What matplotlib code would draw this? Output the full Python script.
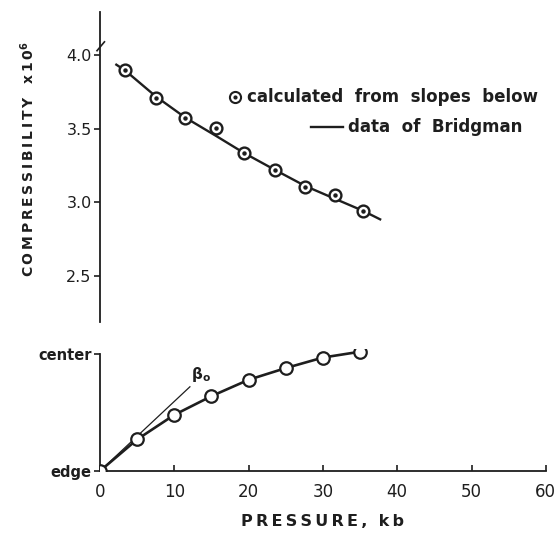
import matplotlib
matplotlib.use("Agg")
import matplotlib.pyplot as plt
from matplotlib.lines import Line2D

# ---- data ----
calc_pressure = [3.4, 7.5, 11.5, 15.6, 19.4, 23.55, 27.6, 31.6, 35.4]
calc_compress = [3.898, 3.706, 3.570, 3.502, 3.333, 3.220, 3.107, 3.050, 2.941]

bridg_pressure = [2.2, 3.4, 7.5, 11.5, 15.6, 19.4, 23.5, 27.6, 31.6, 35.4, 37.7]
bridg_compress = [3.935, 3.895, 3.72, 3.575, 3.452, 3.335, 3.222, 3.112, 3.025, 2.943, 2.885]

slope_pressure = [0, 5, 10, 15, 20, 25, 30, 35]
slope_position = [0.0, 0.27, 0.48, 0.64, 0.78, 0.88, 0.97, 1.02]

tangent_pressure = [0, 12.1]
tangent_position = [0, 0.72]

x_ticks = [0, 10, 20, 30, 40, 50, 60]
upper_yticks = [2.5, 3.0, 3.5, 4.0]
lower_yticks = [0, 1]
lower_yticklabels = ["edge", "center"]

INK = '#1e1e1e'
TS = '\u2009'  # thin space for letter spacing


def spaced(s):
    return TS.join(s)


# ---- figure ----
fig = plt.figure(figsize=(5.58, 5.43), dpi=100)
plt.rcParams['font.family'] = ['DejaVu Sans']

ax1 = fig.add_axes([0.1792, 0.4075, 0.799, 0.5697])
ax2 = fig.add_axes([0.1792, 0.1326, 0.799, 0.224])

# upper panel
ax1.plot(bridg_pressure, bridg_compress, color=INK, lw=1.7, zorder=2)
ax1.plot(calc_pressure, calc_compress, linestyle='none', marker='o', ms=8.5,
         mfc='white', mec=INK, mew=1.7, zorder=3)
ax1.plot(calc_pressure, calc_compress, linestyle='none', marker='o', ms=2.2,
         mfc=INK, mec=INK, zorder=4)
ax1.set_xlim(0, 60)
ax1.set_ylim(2.19, 4.29)
for s in ['top', 'right', 'bottom']:
    ax1.spines[s].set_visible(False)
ax1.spines['left'].set_linewidth(1.3)
ax1.spines['left'].set_color(INK)
ax1.set_xticks([])
ax1.set_yticks(upper_yticks)
ax1.set_yticklabels([f"{v:.1f}" for v in upper_yticks])
ax1.tick_params(axis='y', direction='out', length=4, width=1.2, colors=INK,
                labelsize=11.5, pad=2)
ax1.set_ylabel(spaced("COMPRESSIBILITY") + "   x" + TS + "1" + TS + r"0$^{\mathbf{6}}$",
               fontsize=10, fontweight='bold', color=INK)
ax1.yaxis.set_label_coords(-0.142, 0.525)
# axis break mark near top
ax1.plot([-0.4, 0.6], [4.03, 4.09], color=INK, lw=1.2, clip_on=False)

# legend-like annotations
h1 = Line2D([], [], linestyle='none', marker='o', ms=8, mfc='white', mec=INK, mew=1.5)
h1d = Line2D([], [], linestyle='none', marker='o', ms=2, mfc=INK, mec=INK)
h2 = Line2D([], [], color=INK, lw=1.7)
leg1 = ax1.legend([(h1, h1d)], ["calculated  from  slopes  below"], loc='center left',
                  bbox_to_anchor=(0.255, 0.725), frameon=False, handlelength=0.8,
                  handletextpad=0.3, prop={'weight': 'bold', 'size': 12})
ax1.add_artist(leg1)
leg2 = ax1.legend([h2], ["data  of  Bridgman"], loc='center left',
                  bbox_to_anchor=(0.44, 0.628), frameon=False, handlelength=1.9,
                  handletextpad=0.3, prop={'weight': 'bold', 'size': 12})
for t in leg1.get_texts() + leg2.get_texts():
    t.set_color(INK)

# lower panel
ax2.plot(tangent_pressure, tangent_position, color=INK, lw=0.9, zorder=2)
ax2.plot(slope_pressure, slope_position, color=INK, lw=1.9, marker='o', ms=9,
         mfc='white', mec=INK, mew=1.6, zorder=3)
ax2.text(12.3, 0.74, r"$\mathbf{\beta_o}$", fontsize=11, color=INK,
         ha='left', va='bottom')
ax2.set_xlim(0, 60)
ax2.set_ylim(0, 1.04)
for s in ['top', 'right']:
    ax2.spines[s].set_visible(False)
ax2.spines['left'].set_bounds(0, 1)
for s in ['left', 'bottom']:
    ax2.spines[s].set_linewidth(1.3)
    ax2.spines[s].set_color(INK)
ax2.set_xticks(x_ticks)
ax2.set_xticklabels([str(v) for v in x_ticks])
ax2.tick_params(axis='x', direction='in', length=4, width=1.2, colors=INK,
                labelsize=12, pad=9)
ax2.set_yticks(lower_yticks)
ax2.set_yticklabels(lower_yticklabels, fontweight='bold')
ax2.tick_params(axis='y', direction='out', length=4, width=1.2, colors=INK,
                labelsize=10.5, pad=2)
ax2.set_xlabel(spaced("PRESSURE,") + "  " + spaced("kb"), fontsize=11.5, fontweight='bold',
               color=INK, labelpad=9)

fig.savefig("out.png", dpi=100)
